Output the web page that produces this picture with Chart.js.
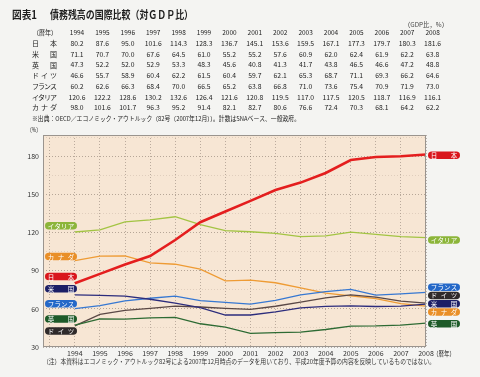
<!DOCTYPE html>
<html>
<head>
<meta charset="utf-8">
<script src="https://cdn.jsdelivr.net/npm/chart.js@4.4.0/dist/chart.umd.min.js"></script>
<style>
  html, body { margin: 0; padding: 0; background: #f4f4f2; }
  #wrap { width: 480px; height: 377px; position: relative; }
</style>
</head>
<body>
<div id="wrap"><canvas id="chart" width="480" height="377"></canvas></div>
<script>
var years   = [1994,1995,1996,1997,1998,1999,2000,2001,2002,2003,2004,2005,2006,2007,2008];
var japan   = [80.2,87.6,95.0,101.6,114.3,128.3,136.7,145.1,153.6,159.5,167.1,177.3,179.7,180.3,181.6];
var usa     = [71.1,70.7,70.0,67.6,64.5,61.0,55.2,55.2,57.6,60.9,62.0,62.4,61.9,62.2,63.8];
var uk      = [47.3,52.2,52.0,52.9,53.3,48.3,45.6,40.8,41.3,41.7,43.8,46.5,46.6,47.2,48.8];
var germany = [46.6,55.7,58.9,60.4,62.2,61.5,60.4,59.7,62.1,65.3,68.7,71.1,69.3,66.2,64.6];
var france  = [60.2,62.6,66.3,68.4,70.0,66.5,65.2,63.8,66.8,71.0,73.6,75.4,70.9,71.9,73.0];
var italy   = [120.6,122.2,128.6,130.2,132.6,126.4,121.6,120.8,119.5,117.0,117.5,120.5,118.7,116.9,116.1];
var canada  = [98.0,101.6,101.7,96.3,95.2,91.4,82.1,82.7,80.6,76.6,72.4,70.3,68.1,64.2,62.2];

var yTicks = [30,60,90,120,150,180];

var FONT = '"Noto Sans CJK JP", "Noto Sans", sans-serif';

// row name, table label, series, line colour, pill colour, line width
var countries = [
  ['日本',   '日本',   japan,   '#e41e1e', '#d9161c', 2.6],
  ['米国',   '米国',   usa,     '#2c2c7c', '#1c1f66', 1.3],
  ['英国',   '英国',   uk,      '#2e6b34', '#1d5a28', 1.3],
  ['ドイツ', 'ドイツ', germany, '#5a4846', '#2f2a2a', 1.3],
  ['フランス','フランス',france, '#3778d2', '#2468c8', 1.3],
  ['イタリア','イタリア',italy,  '#a3c443', '#8cb53a', 1.3],
  ['カナダ', 'カナダ', canada,  '#ee9b34', '#e98f28', 1.3]
];

// pill tags: name -> value where the tag sits (left side, right side)
var leftTags  = {'イタリア':125.6,'カナダ':101.2,'日本':85.5,'米国':75.9,'フランス':64.1,'英国':52,'ドイツ':42.6};
var rightTags = {'日本':181,'イタリア':114.3,'フランス':77.1,'ドイツ':70.6,'米国':64.1,'カナダ':57.5,'英国':48.4};

function spread(ctx, text, c0, c1, y) {
  var n = text.length;
  ctx.textAlign = 'center';
  for (var i = 0; i < n; i++) {
    ctx.fillText(text[i], n == 1 ? (c0 + c1) / 2 : c0 + (c1 - c0) * i / (n - 1), y);
  }
}

function pill(ctx, x, y, w, h, color, text) {
  ctx.fillStyle = color;
  ctx.beginPath();
  ctx.roundRect(x, y - h / 2, w, h, h / 2);
  ctx.fill();
  ctx.fillStyle = '#fff';
  ctx.font = '6.5px ' + FONT;
  ctx.textBaseline = 'middle';
  spread(ctx, text, x + 6, x + w - 6, y + 0.5);
}

var decor = {
  id: 'decor',
  beforeDraw: function(chart) {
    var ctx = chart.ctx, a = chart.chartArea;
    ctx.save();
    ctx.fillStyle = '#f7e6d4';
    ctx.fillRect(a.left, a.top, a.right - a.left, a.bottom - a.top);
    ctx.restore();
  },
  afterDatasetsDraw: function(chart) {
    var ctx = chart.ctx, a = chart.chartArea, ys = chart.scales.y;
    ctx.save();
    ctx.strokeStyle = '#9a948e';
    ctx.lineWidth = 1;
    ctx.strokeRect(a.left + 0.5, a.top + 0.5, a.right - a.left - 1, a.bottom - a.top - 1);
    countries.forEach(function(c) {
      pill(ctx, 45, ys.getPixelForValue(leftTags[c[0]]), 32, 7.5, c[4], c[0]);
      pill(ctx, 428, ys.getPixelForValue(rightTags[c[0]]), 32, 7.5, c[4], c[0]);
    });
    ctx.restore();
  },
  afterDraw: function(chart) {
    var ctx = chart.ctx, a = chart.chartArea;
    ctx.save();
    ctx.fillStyle = '#1e1e1e';
    ctx.textBaseline = 'middle';
    // title
    ctx.font = 'bold 11px ' + FONT;
    ctx.textAlign = 'left';
    ctx.fillText('図表1', 12, 15, 25);
    ctx.fillText('債務残高の国際比較（対ＧＤＰ比）', 50, 15, 143);
    // unit
    ctx.font = '6.5px ' + FONT;
    ctx.fillStyle = '#444';
    ctx.fillText('（GDP比，%）', 404, 25, 44);
    // table
    ctx.fillStyle = '#222';
    ctx.font = '6.5px ' + FONT;
    ctx.fillText('（暦年）', 33, 33, 24);
    var colX = function(i) { return 77 + i * 25.4; };
    ctx.textAlign = 'center';
    years.forEach(function(yr, i) { ctx.fillText(String(yr), colX(i), 33); });
    countries.forEach(function(c, r) {
      var y = 43.5 + r * 10.7;
      ctx.font = '7px ' + FONT;
      spread(ctx, c[1], 35.5, 53.5, y);
      ctx.font = '6.8px ' + FONT;
      ctx.textAlign = 'center';
      c[2].forEach(function(v, i) { ctx.fillText(v.toFixed(1), colX(i), y); });
    });
    ctx.textAlign = 'left';
    ctx.font = '6.3px ' + FONT;
    ctx.fillText('※出典：OECD／エコノミック・アウトルック（82号（2007年12月））。計数はSNAベース、一般政府。', 32, 119, 268);
    ctx.fillText('（%）', 27, 130, 14);
    // x axis unit
    ctx.font = '6.5px ' + FONT;
    ctx.fillText('（暦年）', a.right + 7, a.bottom + 6.5, 22);
    // bottom note
    ctx.fillStyle = '#333';
    ctx.fillText('（注）本資料はエコノミック・アウトルック82号による2007年12月時点のデータを用いており、平成20年度予算の内容を反映しているものではない。', 43, 362, 392);
    ctx.restore();
  }
};

var datasets = countries.map(function(c) {
  return {
    label: c[0],
    data: years.map(function(yr, i) { return {x: yr, y: c[2][i]}; }),
    borderColor: c[3],
    borderWidth: c[5],
    pointRadius: 0,
    tension: 0,
    fill: false
  };
});

new Chart(document.getElementById('chart'), {
  type: 'line',
  data: { datasets: datasets },
  options: {
    responsive: false,
    animation: false,
    devicePixelRatio: 1,
    layout: { padding: { left: 0, top: 135, right: 54, bottom: 0 } },
    plugins: { legend: { display: false }, tooltip: { enabled: false } },
    scales: {
      x: {
        type: 'linear',
        min: 1992.73,
        max: 2008,
        afterBuildTicks: function(s) {
          var t = [];
          for (var v = 1993; v <= 2008; v++) t.push({value: v});
          s.ticks = t;
        },
        afterFit: function(s) { s.height = 30; },
        ticks: {
          autoSkip: false,
          maxRotation: 0,
          padding: 2,
          color: '#333',
          font: { size: 7, family: FONT },
          callback: function(v) { return v >= years[0] ? String(v) : ''; }
        },
        grid: { color: 'rgba(110,95,85,0.55)', lineWidth: 0.8, drawTicks: false },
        border: { display: false, dash: [1, 2] }
      },
      y: {
        min: 30,
        max: 197,
        afterBuildTicks: function(s) {
          var t = [];
          for (var v = 30; v <= 195; v += 15) t.push({value: v});
          s.ticks = t;
        },
        afterFit: function(s) { s.width = 43; },
        ticks: {
          padding: 4,
          color: '#333',
          font: { size: 7, family: FONT },
          callback: function(v) { return yTicks.indexOf(v) >= 0 ? String(v) : ''; }
        },
        grid: {
          color: function(c) { return yTicks.indexOf(c.tick.value) >= 0 ? 'rgba(110,95,85,0.6)' : 'rgba(150,130,115,0.3)'; },
          lineWidth: 0.8,
          drawTicks: false
        },
        border: { display: false, dash: [1, 2] }
      }
    }
  },
  plugins: [decor]
});
</script>
</body>
</html>
